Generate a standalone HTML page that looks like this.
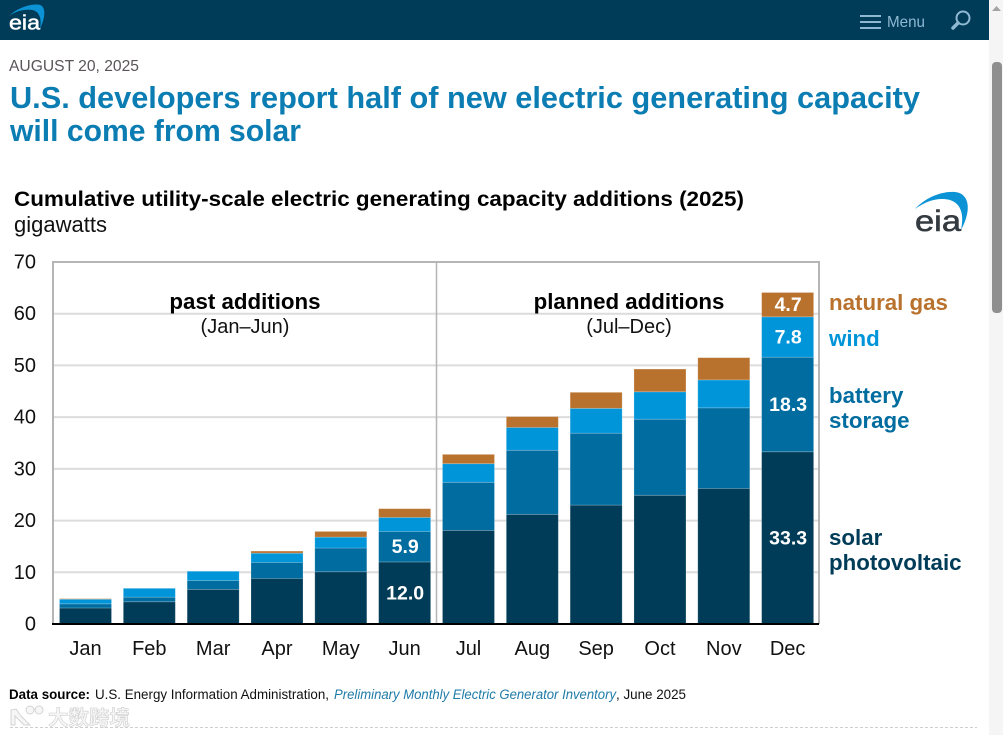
<!DOCTYPE html>
<html lang="en">
<head>
<meta charset="utf-8">
<title>U.S. developers report half of new electric generating capacity will come from solar</title>
<style>
html,body{margin:0;padding:0;background:#fff;width:1003px;height:735px;overflow:hidden;font-family:"Liberation Sans",sans-serif}
svg{display:block;position:absolute;left:0;top:0}
text{font-family:"Liberation Sans","Noto Sans CJK SC",sans-serif}
</style>
</head>
<body>
<svg id="page" width="1003" height="735" viewBox="0 0 1003 735" xmlns="http://www.w3.org/2000/svg">
  <rect x="0" y="0" width="1003" height="735" fill="#fff"/>
  <g>
    <rect x="0" y="0" width="989" height="40" fill="#003b58"/>
    <g>
      <path d="M9 16 C17 8 29 4 38 4.500 C45 5 47 14 40 29 C42 18 39 11 32 10 C24 9 16 11 9 16Z" fill="#0b93d6"/>
      <text x="9" y="29.500" font-size="20" fill="#fff" stroke="#fff" stroke-width="0.5" textLength="31" lengthAdjust="spacingAndGlyphs">eia</text>
    </g>
    <g stroke="#8fb9d3" stroke-width="2">
      <line x1="860" y1="16" x2="881" y2="16"/>
      <line x1="860" y1="22" x2="881" y2="22"/>
      <line x1="860" y1="28" x2="881" y2="28"/>
    </g>
    <text x="887" y="27" font-size="16" fill="#8fb9d3" textLength="38" lengthAdjust="spacingAndGlyphs">Menu</text>
    <g fill="none" stroke="#8fb9d3">
      <circle cx="963" cy="18" r="6.5" stroke-width="2"/>
      <line x1="958" y1="23" x2="953" y2="28" stroke-width="3.5" stroke-linecap="round"/>
    </g>
  </g>
  <g>
    <rect x="989" y="0" width="14" height="735" fill="#f5f5f5"/>
    <path d="M992 11 L996.5 6 L1001 11Z" fill="#a3a3a3"/>
    <rect x="992" y="62" width="10" height="251" rx="4" fill="#8f8f8f"/>
  </g>

  <text x="9" y="71" font-size="15.5" fill="#595559" textLength="130" lengthAdjust="spacingAndGlyphs">AUGUST 20, 2025</text>
  <text x="10" y="108" font-size="31" font-weight="700" fill="#0b7db3" textLength="910" lengthAdjust="spacingAndGlyphs">U.S. developers report half of new electric generating capacity</text>
  <text x="10" y="141" font-size="31" font-weight="700" fill="#0b7db3" textLength="291" lengthAdjust="spacingAndGlyphs">will come from solar</text>

  <text x="14" y="206" font-size="21.3" font-weight="700" fill="#000" textLength="730" lengthAdjust="spacingAndGlyphs">Cumulative utility-scale electric generating capacity additions (2025)</text>
  <text x="14" y="232" font-size="22" fill="#111">gigawatts</text>

  <g>
    <path d="M915 209 C925 198 941 191 955 192 C968 193 973 208 961 230 C964 216 962 204 950 200 C938 197 926 201 915 209Z" fill="#0b93d6"/>
    <text x="915" y="231" font-size="30" fill="#333a40" stroke="#333a40" stroke-width="0.6" textLength="46" lengthAdjust="spacingAndGlyphs">eia</text>
  </g>

  <g id="chart"></g>

  <text x="245" y="309" font-size="22.3" font-weight="700" fill="#000" text-anchor="middle">past additions</text>
  <text x="245" y="333" font-size="20" fill="#111" text-anchor="middle">(Jan–Jun)</text>
  <text x="629" y="309" font-size="22.3" font-weight="700" fill="#000" text-anchor="middle">planned additions</text>
  <text x="629" y="333" font-size="20" fill="#111" text-anchor="middle">(Jul–Dec)</text>

  <text x="829" y="310" font-size="22.3" font-weight="700" fill="#b9722d">natural gas</text>
  <text x="829" y="346" font-size="22.3" font-weight="700" fill="#0095d9">wind</text>
  <text x="829" y="403" font-size="22.3" font-weight="700" fill="#006c9f">battery</text>
  <text x="829" y="428" font-size="22.3" font-weight="700" fill="#006c9f">storage</text>
  <text x="829" y="545" font-size="22.3" font-weight="700" fill="#003b58">solar</text>
  <text x="829" y="570" font-size="22.3" font-weight="700" fill="#003b58">photovoltaic</text>

  <text x="9" y="699" font-size="13.5" font-weight="700" fill="#000" textLength="81" lengthAdjust="spacingAndGlyphs">Data source:</text>
  <text x="95" y="699" font-size="13.5" fill="#111" textLength="234" lengthAdjust="spacingAndGlyphs">U.S. Energy Information Administration,</text>
  <text x="334" y="699" font-size="13.5" font-style="italic" fill="#1f7ba8" textLength="282" lengthAdjust="spacingAndGlyphs">Preliminary Monthly Electric Generator Inventory</text>
  <text x="616" y="699" font-size="13.5" fill="#111" textLength="70" lengthAdjust="spacingAndGlyphs">, June 2025</text>

  <g fill="#f6f6f6" stroke="#d4d4d4" stroke-width="1">
    <path d="M11 710 V725 H15 V716 L24 725 H30 L21 716 L16 709Z"/>
    <circle cx="30" cy="710" r="4"/>
    <circle cx="39" cy="710" r="4"/>
  </g>
  <text x="48" y="725" font-size="20.500" font-weight="700" fill="#f6f6f6" stroke="#d0d0d0" stroke-width="0.6">大数跨境</text>
  <line x1="10" y1="727.5" x2="977" y2="727.5" stroke="#cfcfcf" stroke-width="1" stroke-dasharray="3 2"/>
</svg>
<script>
const months = ['Jan','Feb','Mar','Apr','May','Jun','Jul','Aug','Sep','Oct','Nov','Dec'];
const solar = [3.1,4.3,6.7,8.8,10.1,12.0,18.1,21.2,23.0,24.9,26.2,33.3];
const battery = [0.8,0.9,1.7,3.1,4.6,5.9,9.3,12.4,13.9,14.7,15.6,18.3];
const wind = [0.9,1.7,1.8,1.8,2.1,2.7,3.6,4.4,4.8,5.3,5.4,7.8];
const gas = [0.1,0,0,0.4,1.1,1.7,1.8,2.1,3.1,4.4,4.3,4.7];
const yTicks = [0,10,20,30,40,50,60,70];
const labeledSolar = ['Jun','Dec'];
const labeledBattery = ['Jun','Dec'];
const labeledWind = ['Dec'];
const labeledGas = ['Dec'];

const NS = 'http://www.w3.org/2000/svg';
const chart = document.getElementById('chart');
const plot = {left:53, right:819, top:262, bottom:624};
const yScale = v => plot.bottom - v * (plot.bottom - plot.top) / 70;
const band = 63.83;
const xCenter = i => plot.left + 32.5 + i * band;
const barWidth = 52;

function mk(tag, attrs, text){
  const el = document.createElementNS(NS, tag);
  for (const k in attrs) el.setAttribute(k, attrs[k]);
  if (text !== undefined) el.textContent = text;
  chart.appendChild(el);
  return el;
}

yTicks.forEach(t => {
  if (t > 0 && t < 70) {
    const g = mk('line', {x1:plot.left, x2:plot.right, y1:yScale(t), y2:yScale(t), stroke:'#dcdcdc', 'stroke-width':2});
    
    
  }
  const l = mk('text', {x:36, y:yScale(t) + 6.5, 'font-size':20, fill:'#111', 'text-anchor':'end'}, String(t));
  
  
});

const frame = mk('path', {d:`M${plot.left} ${plot.bottom}V${plot.top}H${plot.right}V${plot.bottom}`, fill:'none', stroke:'#b5b5b5', 'stroke-width':2});


const divider = mk('line', {x1:436.5, x2:436.5, y1:plot.top, y2:plot.bottom, stroke:'#b5b5b5', 'stroke-width':1.5});



const layers = [
  {key:'solar', vals:solar, color:'#003b58', labeled:labeledSolar},
  {key:'battery', vals:battery, color:'#006c9f', labeled:labeledBattery},
  {key:'wind', vals:wind, color:'#0095d9', labeled:labeledWind},
  {key:'gas', vals:gas, color:'#b9722d', labeled:labeledGas}
];

months.forEach((m, i) => {
  let base = 0;
  const cx = xCenter(i);
  layers.forEach(layer => {
    const v = layer.vals[i];
    if (v > 0) {
      const y0 = yScale(base), y1 = yScale(base + v);
      const r = mk('rect', {x:cx - barWidth / 2, y:y1, width:barWidth, height:y0 - y1, fill:layer.color, stroke:'rgba(255,255,255,0.25)', 'stroke-width':0.8});
      
      
      if (layer.labeled.includes(m)) {
        const t = mk('text', {x:cx + 0.5, y:(y0 + y1) / 2 + 6.5, 'font-size':19.5, 'font-weight':700, fill:'#fff', 'text-anchor':'middle'}, v.toFixed(1));
        
        
      }
    }
    base += v;
  });
  const lab = mk('text', {x:cx, y:655, 'font-size':20, fill:'#111', 'text-anchor':'middle'}, m);
  
  
});

const axis = mk('line', {x1:plot.left - 1, x2:plot.right, y1:plot.bottom, y2:plot.bottom, stroke:'#000', 'stroke-width':2});


</script>
</body>
</html>
